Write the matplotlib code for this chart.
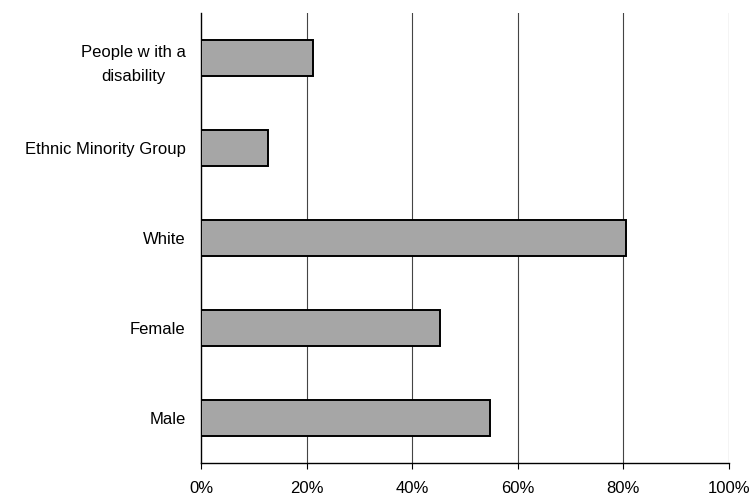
import matplotlib.pyplot as plt
from matplotlib.ticker import PercentFormatter

# categories from top to bottom in the chart
categories = ["People w ith a\ndisability", "Ethnic Minority Group", "White", "Female", "Male"]
values = [21.2, 12.7, 80.5, 45.3, 54.8]
xticks = [0, 20, 40, 60, 80, 100]

plt.rcParams['font.family'] = ['Liberation Sans', 'DejaVu Sans']

fig = plt.figure(figsize=(7.55, 4.98), dpi=100)
ax = fig.add_axes([0.2662, 0.0697, 0.6994, 0.9042])

ypos = list(range(len(categories)))[::-1]
ax.barh(ypos, values, height=0.4, color='#a6a6a6', edgecolor='black',
        linewidth=1.4, zorder=3)

ax.set_xlim(0, 100)
ax.set_ylim(-0.5, len(categories) - 0.5)
ax.set_xticks(xticks)
ax.xaxis.set_major_formatter(PercentFormatter(decimals=0))
ax.set_yticks(ypos)
ax.set_yticklabels(categories, fontsize=12, multialignment='center', linespacing=1.8)
ax.tick_params(axis='x', labelsize=12, length=4, direction='out', pad=9)
ax.tick_params(axis='y', length=0, pad=11)

for g in xticks[1:]:
    ax.axvline(g, color='#444444', linewidth=0.8, zorder=1)

ax.spines['top'].set_visible(False)
ax.spines['right'].set_visible(False)
ax.spines['left'].set_linewidth(1.0)
ax.spines['bottom'].set_linewidth(1.0)

fig.savefig('out.png', dpi=100)
